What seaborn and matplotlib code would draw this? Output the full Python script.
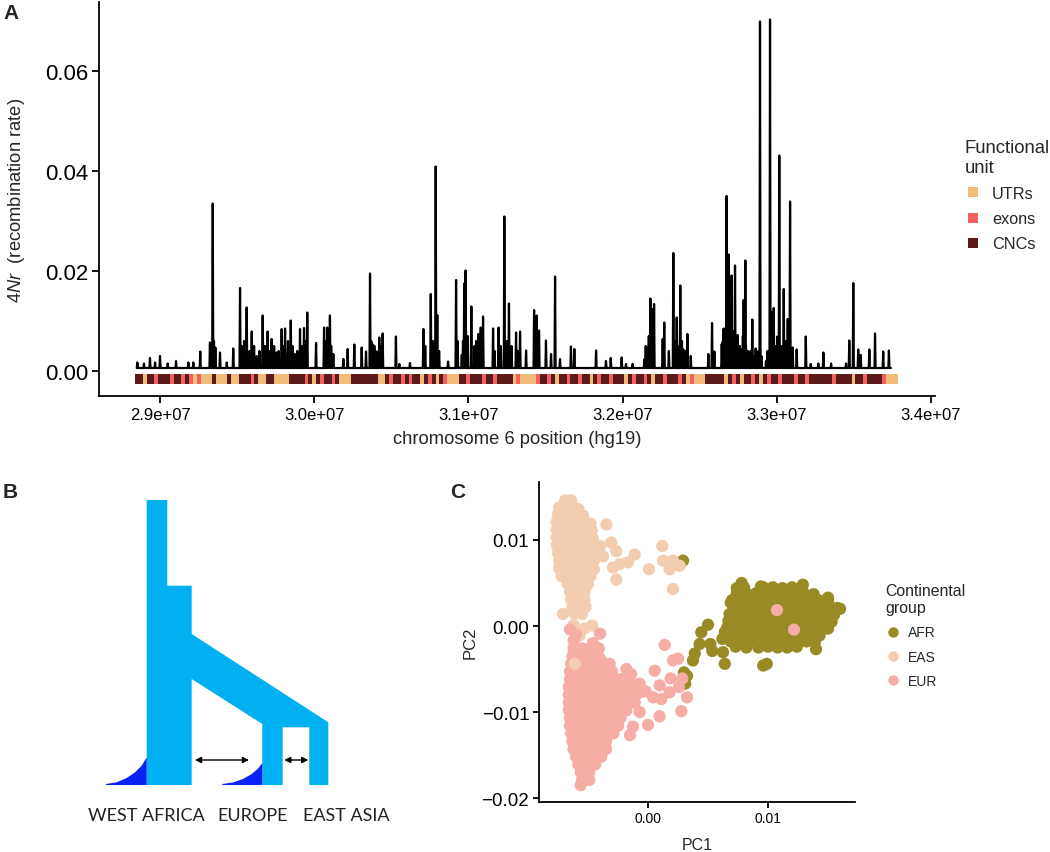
import numpy as np
import pandas as pd
import matplotlib
matplotlib.use("Agg")
import matplotlib.pyplot as plt
import seaborn as sns
from matplotlib.lines import Line2D
from matplotlib.patches import Polygon

# ---------------- Panel A data ----------------
peak_pos_mb = [28.853, 28.896, 28.935, 28.968, 29.000, 29.050, 29.104, 29.184, 29.216, 29.261,
               29.324, 29.342, 29.359, 29.389, 29.433, 29.475, 29.519, 29.562, 29.595, 29.627,
               29.666, 29.698, 29.724, 29.757, 29.789, 29.811, 29.848, 29.875, 29.908, 29.934,
               29.955, 30.012, 30.064, 30.085, 30.102, 30.124, 30.189, 30.217, 30.260, 30.308,
               30.336, 30.362, 30.377, 30.405, 30.422, 30.444, 30.530, 30.552, 30.621, 30.708,
               30.756, 30.788, 30.798, 30.868, 30.920, 30.957, 30.973, 30.982, 31.019, 31.064,
               31.080, 31.095, 31.160, 31.196, 31.233, 31.263, 31.309, 31.335, 31.374, 31.426,
               31.443, 31.458, 31.503, 31.536, 31.562, 31.594, 31.665, 31.687, 31.828, 31.892,
               31.923, 31.994, 32.022, 32.065, 32.141, 32.163, 32.180, 32.193, 32.204, 32.260,
               32.270, 32.329, 32.351, 32.374, 32.394, 32.420, 32.442, 32.556, 32.580, 32.595,
               32.643, 32.653, 32.658, 32.674, 32.689, 32.707, 32.729, 32.746, 32.772, 32.785,
               32.796, 32.813, 32.841, 32.863, 32.891, 32.930, 32.956, 32.967, 32.980, 33.003,
               33.016, 33.045, 33.071, 33.086, 33.103, 33.129, 33.188, 33.220, 33.269, 33.302,
               33.352, 33.449, 33.470, 33.496, 33.528, 33.544, 33.600, 33.637, 33.690, 33.727]
peak_rate = [0.0017, 0.0015, 0.0026, 0.0017, 0.0030, 0.0015, 0.0020, 0.0017, 0.0017, 0.0039,
             0.0057, 0.0335, 0.0047, 0.0037, 0.0017, 0.0045, 0.0166, 0.0127, 0.0079, 0.0030,
             0.0111, 0.0079, 0.0064, 0.0037, 0.0084, 0.0085, 0.0101, 0.0034, 0.0084, 0.0086,
             0.0117, 0.0056, 0.0087, 0.0087, 0.0111, 0.0034, 0.0024, 0.0044, 0.0053, 0.0047,
             0.0039, 0.0195, 0.0054, 0.0039, 0.0067, 0.0075, 0.0069, 0.0014, 0.0016, 0.0084,
             0.0154, 0.0409, 0.0112, 0.0019, 0.0182, 0.0032, 0.0175, 0.0201, 0.0129, 0.0074,
             0.0087, 0.0109, 0.0085, 0.0087, 0.0309, 0.0135, 0.0077, 0.0079, 0.0041, 0.0122,
             0.0111, 0.0081, 0.0061, 0.0034, 0.0189, 0.0024, 0.0049, 0.0044, 0.0041, 0.0020,
             0.0026, 0.0027, 0.0014, 0.0014, 0.0023, 0.0047, 0.0145, 0.0124, 0.0134, 0.0064,
             0.0097, 0.0236, 0.0107, 0.0171, 0.0043, 0.0074, 0.0030, 0.0034, 0.0096, 0.0039,
             0.0054, 0.0084, 0.0085, 0.0350, 0.0233, 0.0191, 0.0211, 0.0072, 0.0044, 0.0142,
             0.0221, 0.0040, 0.0103, 0.0045, 0.0699, 0.0020, 0.0703, 0.0117, 0.0126, 0.0069,
             0.0431, 0.0164, 0.0104, 0.0339, 0.0047, 0.0043, 0.0069, 0.0014, 0.0015, 0.0037,
             0.0015, 0.0015, 0.0061, 0.0176, 0.0043, 0.0032, 0.0043, 0.0075, 0.0039, 0.0041]
# small spikes that make up the dense black clusters
minor_peak_pos_mb = [29.330, 29.350, 29.530, 29.545, 29.580, 29.610, 29.645, 29.680, 29.710, 29.740,
                     29.770, 29.800, 29.830, 29.860, 29.890, 29.920, 29.945, 30.070, 30.095, 30.110,
                     30.370, 30.390, 30.430, 30.720, 30.770, 30.810, 30.930, 30.965, 30.995, 31.040,
                     31.050, 31.070, 31.170, 31.210, 31.250, 31.280, 31.320, 31.435, 31.450, 32.150,
                     32.170, 32.200, 32.265, 32.300, 32.340, 32.360, 32.385, 32.410, 32.650, 32.665,
                     32.700, 32.715, 32.740, 32.760, 32.780, 32.800, 32.830, 32.850, 32.880, 32.900,
                     32.940, 32.960, 32.975, 32.990, 33.010, 33.030, 33.055, 33.080, 33.095]
minor_peak_rate = [0.0045, 0.0060, 0.0050, 0.0060, 0.0040, 0.0050, 0.0040, 0.0050, 0.0040, 0.0050,
                   0.0040, 0.0050, 0.0060, 0.0050, 0.0040, 0.0050, 0.0060, 0.0060, 0.0070, 0.0050,
                   0.0060, 0.0050, 0.0050, 0.0050, 0.0060, 0.0040, 0.0060, 0.0060, 0.0070, 0.0050,
                   0.0060, 0.0050, 0.0040, 0.0050, 0.0060, 0.0050, 0.0040, 0.0060, 0.0050, 0.0050,
                   0.0070, 0.0060, 0.0050, 0.0040, 0.0060, 0.0050, 0.0060, 0.0040, 0.0060, 0.0080,
                   0.0070, 0.0080, 0.0060, 0.0050, 0.0070, 0.0050, 0.0040, 0.0030, 0.0040, 0.0030,
                   0.0040, 0.0060, 0.0070, 0.0050, 0.0060, 0.0050, 0.0060, 0.0050, 0.0040]
baseline_rate = 0.0006
line_start_mb, line_end_mb = 28.853, 33.740

strip_start_mb, strip_end_mb = 28.838, 33.785
strip_units = ("CCUCCECC" "CECCEC" "EUEU" "UUCUUUCUU" "CCCEC" "UUCCU" "UUU" "CCCC" "ECUCE"
               "CCEC" "UUU" "CCCCC" "CCUU" "CECCECECC" "UCECUCE" "UUU" "CCECCCECCECCCC" "UEUU"
               "UU" "ECCECUCCECCECCUCECCECCCUCECCEC" "U" "CCECCCEC" "UEU" "UU" "CCCC" "CUCECUC"
               "CECUCECCEC" "CCECCECC" "CCCCECCCCUCCECCCCE" "UUU")
unit_codes = ["U", "E", "C"]
unit_labels = ["UTRs", "exons", "CNCs"]
unit_colors = ["#F1BB7B", "#F0625F", "#5C1A1B"]

a_xticks = [2.9e7, 3.0e7, 3.1e7, 3.2e7, 3.3e7, 3.4e7]
a_xticklabels = ["2.9e+07", "3.0e+07", "3.1e+07", "3.2e+07", "3.3e+07", "3.4e+07"]
a_yticks = [0.00, 0.02, 0.04, 0.06]
a_yticklabels = ["0.00", "0.02", "0.04", "0.06"]

# ---------------- Panel C data (PC values in units of 1e-3) ----------------
afr_pts = [(8.0, 4.5), (9.6, 4.5), (10.4, 4.5), (11.2, 4.4), (12.0, 4.5), (12.8, 4.4),
           (7.4, 3.8), (8.2, 3.8), (9.0, 3.8), (9.8, 3.9), (10.6, 3.8), (11.4, 3.8), (12.2, 3.9), (13.0, 3.8), (13.8, 3.7),
           (7.0, 3.0), (7.8, 3.0), (8.6, 3.0), (9.4, 3.1), (10.2, 3.0), (11.0, 3.0), (11.8, 3.1), (12.6, 3.0), (13.4, 3.0), (14.2, 3.0), (15.0, 2.9),
           (7.2, 2.2), (8.0, 2.2), (8.8, 2.2), (9.6, 2.3), (10.4, 2.2), (11.2, 2.2), (12.0, 2.3), (12.8, 2.2), (13.6, 2.2), (14.4, 2.2), (15.2, 2.2), (15.8, 2.1),
           (6.8, 1.4), (7.6, 1.4), (8.4, 1.4), (9.2, 1.5), (10.0, 1.4), (10.8, 1.4), (11.6, 1.5), (12.4, 1.4), (13.2, 1.4), (14.0, 1.4), (14.8, 1.4), (15.5, 1.3),
           (6.7, 0.6), (7.4, 0.6), (8.2, 0.6), (9.0, 0.7), (9.8, 0.6), (10.6, 0.6), (11.4, 0.7), (12.2, 0.6), (13.0, 0.6), (13.8, 0.6), (14.6, 0.6), (15.3, 0.5),
           (6.6, -0.2), (7.2, -0.2), (8.0, -0.2), (8.8, -0.1), (9.6, -0.2), (10.4, -0.2), (11.2, -0.1), (12.0, -0.2), (12.8, -0.2), (13.6, -0.2), (14.4, -0.2), (15.0, -0.3),
           (6.6, -1.0), (7.2, -1.0), (8.0, -1.0), (8.8, -0.9), (9.6, -1.0), (10.4, -1.0), (11.2, -0.9), (12.0, -1.0), (12.8, -1.0), (13.6, -1.0), (14.3, -1.1),
           (6.9, -1.8), (7.6, -1.8), (8.4, -1.8), (9.2, -1.7), (10.0, -1.8), (10.8, -1.8), (11.6, -1.7), (12.4, -1.8), (13.2, -1.8), (13.9, -1.9),
           (7.3, -2.4), (8.2, -2.5), (9.2, -2.5), (10.0, -2.4), (10.8, -2.5), (11.6, -2.5), (12.4, -2.4),
           (7.8, 5.0), (7.4, 4.4), (9.4, 4.6), (12.9, 4.8), (15.0, 3.3), (6.9, 2.7), (16.0, 2.0),
           (9.6, -4.6), (9.9, -4.4), (6.4, -4.4), (14.0, -2.7), (5.0, 0.15), (4.44, -0.73), (4.3, -2.1),
           (5.2, -2.1), (5.36, -2.9), (3.9, -3.2), (3.75, -4.0), (3.0, -5.4), (3.25, -5.8), (3.1, -6.7),
           (2.92, 7.6), (6.25, -3.05), (6.4, -0.7), (6.8, -0.35), (6.2, -1.5)]
eas_pts = [(-6.9, 14.6), (-6.4, 14.6),
           (-7.4, 13.8), (-6.8, 13.8), (-6.2, 13.8), (-5.8, 13.6),
           (-7.5, 13.0), (-6.9, 13.0), (-6.3, 13.0), (-5.8, 12.9), (-5.4, 12.8),
           (-7.6, 12.1), (-7.0, 12.1), (-6.4, 12.1), (-5.8, 12.1), (-5.2, 12.0), (-4.8, 11.9),
           (-7.6, 11.2), (-7.0, 11.2), (-6.4, 11.2), (-5.8, 11.2), (-5.2, 11.2), (-4.7, 11.1),
           (-7.6, 10.3), (-7.0, 10.3), (-6.4, 10.3), (-5.8, 10.3), (-5.2, 10.3), (-4.6, 10.2),
           (-7.6, 9.4), (-7.0, 9.4), (-6.4, 9.4), (-5.8, 9.4), (-5.2, 9.4), (-4.6, 9.4),
           (-7.5, 8.5), (-6.9, 8.5), (-6.3, 8.5), (-5.7, 8.5), (-5.1, 8.5), (-4.5, 8.5),
           (-7.4, 7.6), (-6.8, 7.6), (-6.2, 7.6), (-5.6, 7.6), (-5.0, 7.6), (-4.5, 7.6),
           (-7.4, 6.7), (-6.8, 6.7), (-6.2, 6.7), (-5.6, 6.7), (-5.0, 6.7), (-4.5, 6.6),
           (-7.2, 5.8), (-6.6, 5.8), (-6.0, 5.8), (-5.4, 5.8), (-4.8, 5.8),
           (-6.7, 4.9), (-6.1, 4.9), (-5.5, 4.9), (-5.0, 4.9),
           (-6.5, 4.0), (-5.9, 4.0), (-5.3, 4.0),
           (-6.4, 3.1), (-5.8, 3.1), (-5.3, 3.1),
           (-6.3, 2.2), (-5.7, 2.2), (-5.2, 2.2),
           (-6.1, 1.4), (-5.5, 1.4),
           (-3.47, 11.8), (-2.64, 8.7), (-2.92, 6.8), (-2.36, 7.2), (-1.67, 7.4), (-1.11, 8.3),
           (0.08, 6.6), (1.19, 9.3), (1.25, 7.6), (1.8, 6.6), (2.08, 7.6), (2.64, 7.0), (2.08, 4.3),
           (-2.64, 5.4), (-3.75, 8.1), (-3.06, 9.7), (-4.0, 9.3), (-7.08, 1.4), (-4.64, 0.04),
           (-5.7, -1.1), (-6.2, 0.1), (-5.3, -0.3)]
eur_pts = [(-6.5, -0.4), (-6.0, -1.0), (-4.0, -0.9), (-6.2, -1.7), (-4.6, -2.0), (-4.0, -3.8), (-3.2, -4.4),
           (-6.2, -2.6), (-5.5, -2.6), (-4.8, -2.6), (-4.1, -2.6),
           (-6.3, -3.5), (-5.6, -3.5), (-4.9, -3.5), (-4.2, -3.5),
           (-6.4, -4.4), (-5.7, -4.4), (-5.0, -4.4), (-4.3, -4.4), (-3.6, -4.4),
           (-6.5, -5.3), (-5.8, -5.3), (-5.1, -5.3), (-4.4, -5.3), (-3.7, -5.3), (-3.0, -5.3),
           (-6.5, -6.2), (-5.8, -6.2), (-5.1, -6.2), (-4.4, -6.2), (-3.7, -6.2), (-3.0, -6.2), (-2.3, -6.2), (-1.6, -6.2),
           (-6.6, -7.1), (-5.9, -7.1), (-5.2, -7.1), (-4.5, -7.1), (-3.8, -7.1), (-3.1, -7.1), (-2.4, -7.1), (-1.7, -7.1), (-1.1, -7.1),
           (-6.6, -8.0), (-5.9, -8.0), (-5.2, -8.0), (-4.5, -8.0), (-3.8, -8.0), (-3.1, -8.0), (-2.4, -8.0), (-1.7, -8.0), (-1.0, -8.0),
           (-6.6, -8.9), (-5.9, -8.9), (-5.2, -8.9), (-4.5, -8.9), (-3.8, -8.9), (-3.1, -8.9), (-2.4, -8.9), (-1.7, -8.9), (-1.1, -8.9),
           (-6.6, -9.8), (-5.9, -9.8), (-5.2, -9.8), (-4.5, -9.8), (-3.8, -9.8), (-3.1, -9.8), (-2.4, -9.8), (-1.8, -9.8),
           (-6.5, -10.7), (-5.8, -10.7), (-5.1, -10.7), (-4.4, -10.7), (-3.7, -10.7), (-3.0, -10.7), (-2.3, -10.7),
           (-6.5, -11.6), (-5.8, -11.6), (-5.1, -11.6), (-4.4, -11.6), (-3.7, -11.6), (-3.0, -11.6), (-2.5, -11.6),
           (-6.4, -12.5), (-5.7, -12.5), (-5.0, -12.5), (-4.3, -12.5), (-3.6, -12.5), (-2.9, -12.5),
           (-6.3, -13.4), (-5.6, -13.4), (-4.9, -13.4), (-4.2, -13.4), (-3.5, -13.4),
           (-6.2, -14.3), (-5.5, -14.3), (-4.8, -14.3), (-4.1, -14.3), (-3.5, -14.3),
           (-6.0, -15.2), (-5.3, -15.2), (-4.6, -15.2), (-3.9, -15.2),
           (-5.8, -16.1), (-5.1, -16.1), (-4.4, -16.1),
           (-5.6, -17.0), (-4.9, -17.0),
           (-5.5, -17.9), (-4.9, -17.9), (-5.6, -18.5),
           (-1.8, -5.0), (-0.7, -6.7), (0.0, -11.5), (0.42, -8.3), (0.56, -5.2), (0.97, -6.9),
           (1.11, -8.5), (0.97, -10.5), (1.39, -2.2), (1.89, -6.1), (2.08, -4.0), (2.5, -3.8),
           (2.58, -7.1), (2.78, -9.9), (3.25, -8.3), (2.86, -6.1), (1.8, -7.7), (-1.4, -5.6),
           (-0.6, -7.7), (-0.7, -10.0), (-1.25, -11.7), (-1.5, -12.7), (-0.2, -7.6),
           (10.75, 1.85), (12.17, -0.42)]
eas_late_pts = [(-6.1, -4.4)]
group_names = ["AFR", "EAS", "EUR"]
group_colors = ["#988A24", "#F4CDB0", "#F5ADA6"]
c_xticks = [0.0, 0.01]
c_xticklabels = ["0.00", "0.01"]
c_yticks = [-0.02, -0.01, 0.0, 0.01]
c_yticklabels = ["\u22120.02", "\u22120.01", "0.00", "0.01"]

# ---------------- Panel B schematic (pixel space) ----------------
tree_outline = [(146.7, 786), (146.7, 501), (167.3, 501), (167.3, 586.7), (191.7, 586.7),
                (191.7, 635), (328.3, 723.3), (328.3, 786), (309.3, 786), (309.3, 728.3),
                (282.7, 728.3), (282.7, 786), (262.3, 786), (262.3, 725), (191.7, 680),
                (191.7, 786)]
hump_west = [(106, 786), (106, 785), (116.7, 783.3), (126.7, 779), (135, 773.3),
             (141.7, 766.7), (146.7, 758.3), (146.7, 786)]
hump_europe = [(222.3, 786), (222.3, 785), (233, 783.5), (243, 780), (251, 775.5),
               (257.7, 770), (262.3, 764), (262.3, 786)]
migration_arrows = [((195, 761), (249, 761)), ((284.3, 761), (308.3, 761))]
pop_labels = ["WEST AFRICA", "EUROPE", "EAST ASIA"]
pop_label_x = [146.7, 252.7, 346.0]

# ---------------- style ----------------
sns.set_style("white")
plt.rcParams["font.family"] = ["Liberation Sans", "DejaVu Sans"]
plt.rcParams["mathtext.fontset"] = "custom"
plt.rcParams["mathtext.it"] = "Liberation Sans:italic"
plt.rcParams["mathtext.rm"] = "Liberation Sans"
plt.rcParams["axes.unicode_minus"] = True

W, H = 1050, 853
fig = plt.figure(figsize=(W / 100, H / 100), dpi=100)


def px_axes(x0, y0, x1, y1):
    return fig.add_axes([x0 / W, 1 - y1 / H, (x1 - x0) / W, (y1 - y0) / H])


def style_axes(ax, lw=1.3):
    for s in ["top", "right"]:
        ax.spines[s].set_visible(False)
    for s in ["left", "bottom"]:
        ax.spines[s].set_color("black")
        ax.spines[s].set_linewidth(lw)
    ax.tick_params(axis="both", which="both", direction="out", color="black",
                   width=lw, labelcolor="black", left=True, bottom=True)
    ax.grid(False)


# ======== Panel A ========
ax_a = px_axes(99, 3, 935, 397)
style_axes(ax_a)

d = 0.0035
all_peaks = sorted(zip(peak_pos_mb + minor_peak_pos_mb, peak_rate + minor_peak_rate))
xs, ys = [line_start_mb * 1e6], [baseline_rate]
for p, h in all_peaks:
    xs += [(p - d) * 1e6, p * 1e6, (p + d) * 1e6]
    ys += [baseline_rate, h, baseline_rate]
xs.append(line_end_mb * 1e6)
ys.append(baseline_rate)
line_df = pd.DataFrame({"pos": xs, "rate": ys})
sns.lineplot(data=line_df, x="pos", y="rate", sort=False, estimator=None,
             color="black", linewidth=1.6, ax=ax_a)

# functional unit strip (merge runs)
n = len(strip_units)
bw = (strip_end_mb - strip_start_mb) / n
runs = []
i = 0
while i < n:
    j = i
    while j < n and strip_units[j] == strip_units[i]:
        j += 1
    runs.append((strip_start_mb + i * bw, (j - i) * bw, strip_units[i]))
    i = j
cmap = dict(zip(unit_codes, unit_colors))
ax_a.bar([r[0] * 1e6 for r in runs], 0.0019, width=[r[1] * 1e6 for r in runs],
         bottom=-0.0025, align="edge", color=[cmap[r[2]] for r in runs], linewidth=0)

ax_a.set_xlim(2.86044e7, 3.40259e7)
ax_a.set_ylim(-0.005, 0.0738)
ax_a.set_xticks(a_xticks)
ax_a.set_xticklabels(a_xticklabels, fontsize=12)
ax_a.set_yticks(a_yticks)
ax_a.set_yticklabels(a_yticklabels, fontsize=16)
ax_a.tick_params(axis="both", length=5, pad=3)
ax_a.set_xlabel("chromosome 6 position (hg19)", fontsize=13.2)
ax_a.set_ylabel(r"$\mathit{4Nr}$  (recombination rate)", fontsize=13.2)
ax_a.xaxis.set_label_coords(0.5, -0.086)
ax_a.yaxis.set_label_coords(-0.086, 0.5)

hA = [Line2D([], [], marker="s", linestyle="none", markersize=7.5,
             markerfacecolor=c, markeredgewidth=0) for c in unit_colors]
legA = fig.legend(hA, unit_labels, title="Functional\nunit", loc="upper left",
                  bbox_to_anchor=(958 / W, 1 - 134 / H), frameon=False, fontsize=11.7,
                  title_fontsize=13.3, handlelength=1.0, handletextpad=0.7,
                  labelspacing=0.62, borderaxespad=0)
legA._legend_box.align = "left"

# ======== Panel B ========
ax_b = px_axes(80, 480, 440, 853)
ax_b.set_xlim(80, 440)
ax_b.set_ylim(853, 480)
ax_b.axis("off")
light_blue, dark_blue = "#00B0F0", "#0B22F5"
ax_b.add_patch(Polygon(tree_outline, closed=True, facecolor=light_blue, edgecolor="none"))
ax_b.add_patch(Polygon(hump_west, closed=True, facecolor=dark_blue, edgecolor="none"))
ax_b.add_patch(Polygon(hump_europe, closed=True, facecolor=dark_blue, edgecolor="none"))
for (p0, p1) in migration_arrows:
    ax_b.annotate("", xy=p1, xytext=p0,
                  arrowprops=dict(arrowstyle="<|-|>", color="black", lw=1.0,
                                  mutation_scale=9, shrinkA=0, shrinkB=0))
for lab, x in zip(pop_labels, pop_label_x):
    ax_b.text(x, 816, lab, ha="center", va="center", fontsize=13,
              family=["Lato", "DejaVu Sans"], color="#222222")

# ======== Panel C ========
ax_c = px_axes(539, 483, 855, 802.7)
style_axes(ax_c)
rows = []
for g, pts in [("AFR", afr_pts), ("EAS", eas_pts), ("EUR", eur_pts), ("EAS", eas_late_pts)]:
    for (x, y) in pts:
        rows.append((x / 1000.0, y / 1000.0, g))
pc_df = pd.DataFrame(rows, columns=["PC1", "PC2", "group"])
sns.scatterplot(data=pc_df, x="PC1", y="PC2", hue="group", hue_order=group_names,
                palette=dict(zip(group_names, group_colors)), s=78, linewidth=0,
                alpha=1, legend=False, ax=ax_c)
ax_c.set_xlim(-0.009083, 0.01725)
ax_c.set_ylim(-0.02043, 0.016744)
ax_c.set_xticks(c_xticks)
ax_c.set_xticklabels(c_xticklabels, fontsize=10)
ax_c.set_yticks(c_yticks)
ax_c.set_yticklabels(c_yticklabels, fontsize=13.5)
ax_c.tick_params(axis="both", length=4, pad=3)
ax_c.set_xlabel("PC1", fontsize=11.5)
ax_c.set_ylabel("PC2", fontsize=12)
ax_c.xaxis.set_label_coords(0.5, -0.11)
ax_c.yaxis.set_label_coords(-0.195, 0.5)

hC = [Line2D([], [], marker="o", linestyle="none", markersize=7.5,
             markerfacecolor=c, markeredgewidth=0) for c in group_colors]
legC = fig.legend(hC, group_names, title="Continental\ngroup", loc="upper left",
                  bbox_to_anchor=(880 / W, 1 - 578 / H), frameon=False, fontsize=10,
                  title_fontsize=11.4, handlelength=1.0, handletextpad=0.6,
                  labelspacing=0.75, borderaxespad=0)
legC._legend_box.align = "left"

# panel letters
fig.text(3 / W, 1 - 4 / H, "A", fontsize=15, fontweight="bold", va="top", ha="left")
fig.text(3 / W, 1 - 483 / H, "B", fontsize=15, fontweight="bold", va="top", ha="left")
fig.text(450 / W, 1 - 483 / H, "C", fontsize=15, fontweight="bold", va="top", ha="left")

fig.savefig("out.png", dpi=100)
